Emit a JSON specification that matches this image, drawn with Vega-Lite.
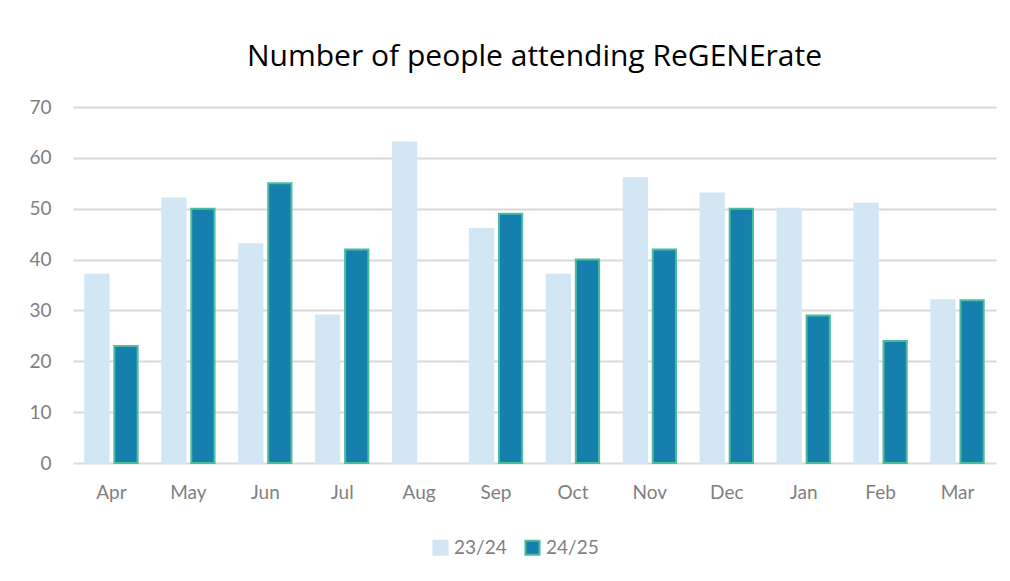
{
  "$schema": "https://vega.github.io/schema/vega-lite/v6.json",
  "width": 923,
  "height": 356,
  "autosize": {"type": "none"},
  "padding": {"left": 73, "top": 107, "right": 14, "bottom": 118},
  "background": "white",
  "title": {
    "text": "Number of people attending ReGENErate",
    "font": "Open Sans",
    "fontSize": 30,
    "fontWeight": "normal",
    "color": "#000000",
    "anchor": "middle",
    "offset": 26
  },
  "data": {
    "values": [
      {"month": "Apr", "year": "23/24", "value": 37},
      {"month": "Apr", "year": "24/25", "value": 23},
      {"month": "May", "year": "23/24", "value": 52},
      {"month": "May", "year": "24/25", "value": 50},
      {"month": "Jun", "year": "23/24", "value": 43},
      {"month": "Jun", "year": "24/25", "value": 55},
      {"month": "Jul", "year": "23/24", "value": 29},
      {"month": "Jul", "year": "24/25", "value": 42},
      {"month": "Aug", "year": "23/24", "value": 63},
      {"month": "Aug", "year": "24/25", "value": null},
      {"month": "Sep", "year": "23/24", "value": 46},
      {"month": "Sep", "year": "24/25", "value": 49},
      {"month": "Oct", "year": "23/24", "value": 37},
      {"month": "Oct", "year": "24/25", "value": 40},
      {"month": "Nov", "year": "23/24", "value": 56},
      {"month": "Nov", "year": "24/25", "value": 42},
      {"month": "Dec", "year": "23/24", "value": 53},
      {"month": "Dec", "year": "24/25", "value": 50},
      {"month": "Jan", "year": "23/24", "value": 50},
      {"month": "Jan", "year": "24/25", "value": 29},
      {"month": "Feb", "year": "23/24", "value": 51},
      {"month": "Feb", "year": "24/25", "value": 24},
      {"month": "Mar", "year": "23/24", "value": 32},
      {"month": "Mar", "year": "24/25", "value": 32}
    ]
  },
  "mark": {"type": "bar", "strokeWidth": 2},
  "encoding": {
    "x": {
      "field": "month",
      "type": "nominal",
      "sort": ["Apr","May","Jun","Jul","Aug","Sep","Oct","Nov","Dec","Jan","Feb","Mar"],
      "scale": {"paddingInner": 0.32, "paddingOuter": 0.16},
      "axis": {
        "title": null,
        "labelAngle": 0,
        "domain": false,
        "ticks": false,
        "labelPadding": 20,
        "labelFont": "Lato",
        "labelFontSize": 19,
        "labelColor": "#7f7f7f"
      }
    },
    "xOffset": {
      "field": "year",
      "type": "nominal",
      "scale": {"paddingInner": 0.2}
    },
    "y": {
      "field": "value",
      "type": "quantitative",
      "scale": {"domain": [0, 70]},
      "axis": {
        "title": null,
        "values": [0,10,20,30,40,50,60,70],
        "domain": false,
        "ticks": false,
        "grid": true,
        "gridColor": "#d9d9d9",
        "gridWidth": 2,
        "labelPadding": 22,
        "labelFont": "Lato",
        "labelFontSize": 19,
        "labelColor": "#7f7f7f"
      }
    },
    "color": {
      "field": "year",
      "type": "nominal",
      "scale": {"domain": ["23/24","24/25"], "range": ["#d2e6f4", "#1580ae"]},
      "legend": {
        "title": null,
        "orient": "none",
        "direction": "horizontal",
        "legendX": 358,
        "legendY": 431,
        "symbolType": "square",
        "symbolSize": 200,
        "labelFont": "Lato",
        "labelFontSize": 19,
        "labelColor": "#7f7f7f",
        "columnPadding": 14,
        "labelOffset": 4
      }
    },
    "stroke": {
      "field": "year",
      "type": "nominal",
      "scale": {"domain": ["23/24","24/25"], "range": ["#d2e6f4", "#4dbb9c"]},
      "legend": null
    }
  },
  "config": {
    "view": {"stroke": null},
    "legend": {"symbolStrokeWidth": 2}
  }
}
